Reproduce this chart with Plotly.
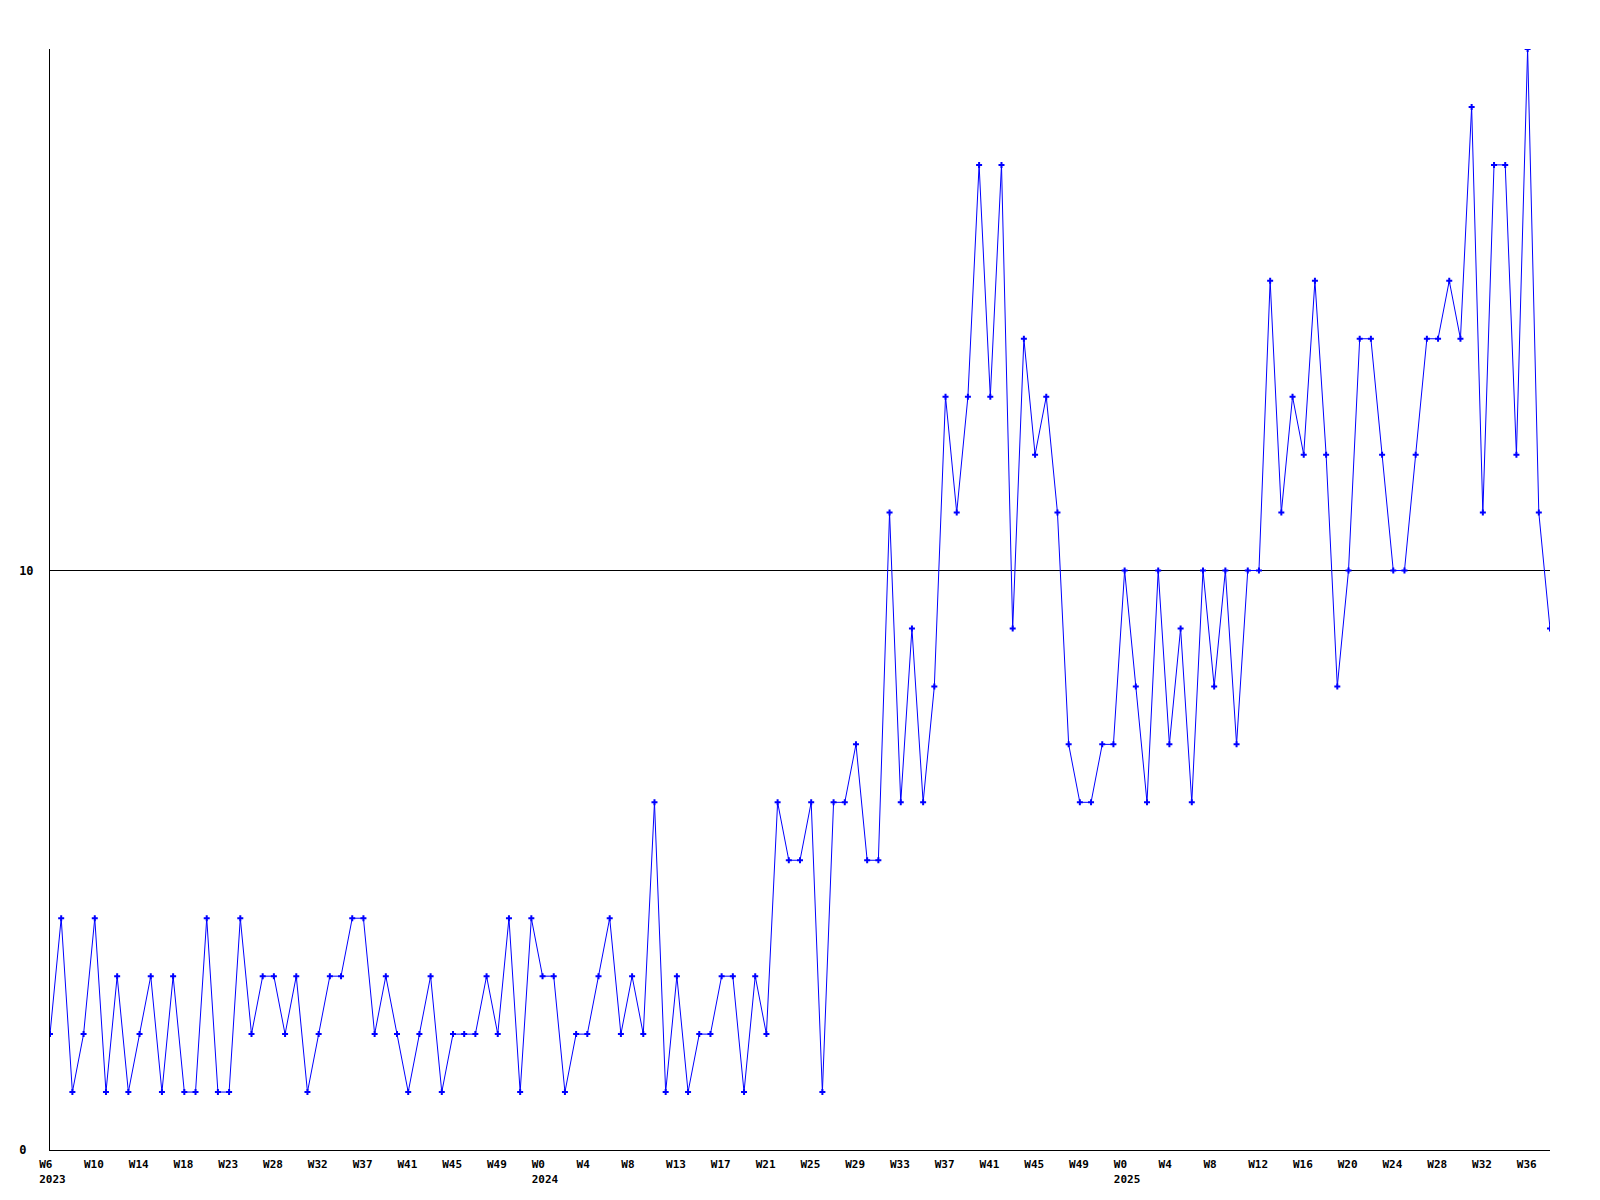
import plotly.graph_objects as go

# weekly counts, W6 2023 .. W38 2025
counts = [2, 4, 1, 2, 4, 1, 3, 1, 2, 3, 1, 3, 1, 1, 4, 1, 1, 4, 2, 3,
          3, 2, 3, 1, 2, 3, 3, 4, 4, 2, 3, 2, 1, 2, 3, 1, 2, 2, 2, 3,
          2, 4, 1, 4, 3, 3, 1, 2, 2, 3, 4, 2, 3, 2, 6, 1, 3, 1, 2, 2,
          3, 3, 1, 3, 2, 6, 5, 5, 6, 1, 6, 6, 7, 5, 5, 11, 6, 9, 6, 8,
          13, 11, 13, 17, 13, 17, 9, 14, 12, 13, 11, 7, 6, 6, 7, 7, 10, 8, 6, 10,
          7, 9, 6, 10, 8, 10, 7, 10, 10, 15, 11, 13, 12, 15, 12, 8, 10, 14, 14, 12,
          10, 10, 12, 14, 14, 15, 14, 18, 11, 17, 17, 12, 19, 11, 9]

week_labels = ['W6', 'W10', 'W14', 'W18', 'W23', 'W28', 'W32', 'W37', 'W41',
               'W45', 'W49', 'W0', 'W4', 'W8', 'W13', 'W17', 'W21', 'W25',
               'W29', 'W33', 'W37', 'W41', 'W45', 'W49', 'W0', 'W4', 'W8',
               'W12', 'W16', 'W20', 'W24', 'W28', 'W32', 'W36']
year_labels = {0: '2023', 11: '2024', 24: '2025'}

y_ticks = [0, 10]
y_labels = ['0\u00a0', '10']

x = list(range(len(counts)))

# labels are left aligned just before each 4th week; pad them to a fixed
# width in the monospace font and nudge the label position a little
ticktext = []
for i, w in enumerate(week_labels):
    t = w.ljust(4, '\u00a0')
    if i in year_labels:
        t += '<br>' + year_labels[i]
    ticktext.append(t)
tick_pos = [p + 0.22 for p in x[::4][:len(week_labels)]]

font = dict(family='DejaVu Sans Mono', size=11, color='black', weight='bold')
yfont = dict(font, size=12)

fig = go.Figure()
fig.add_trace(go.Scatter(x=x,
                         y=counts,
                         mode='lines+markers',
                         line={'color': '#0000ff', 'width': 1},
                         marker={'symbol': 'cross', 'size': 5, 'color': '#0000ff'},
                         cliponaxis=True,
                         showlegend=False
                         )
              )

# the page body has an 8px margin, so shift the figure back by that much
fig.update_layout(width=1592, height=1192,
                  margin=dict(l=42, r=50, t=41, b=50),
                  paper_bgcolor='white',
                  plot_bgcolor='white',
                  font=font
                  )

fig.update_xaxes(range=[0, len(counts) - 1],
                 tickvals=tick_pos,
                 ticktext=ticktext,
                 showgrid=False,
                 zeroline=False,
                 showline=True,
                 linecolor='black',
                 linewidth=1,
                 ticks='',
                 ticklabelstandoff=4,
                 automargin=False,
                 tickfont=font
                 )

fig.update_yaxes(range=[0, 19],
                 tickvals=y_ticks,
                 ticktext=y_labels,
                 showgrid=True,
                 gridcolor='black',
                 gridwidth=1,
                 zeroline=False,
                 showline=True,
                 linecolor='black',
                 linewidth=1,
                 ticks='',
                 ticklabelstandoff=13,
                 automargin=False,
                 tickfont=yfont
                 )

fig.write_html("out.html")
